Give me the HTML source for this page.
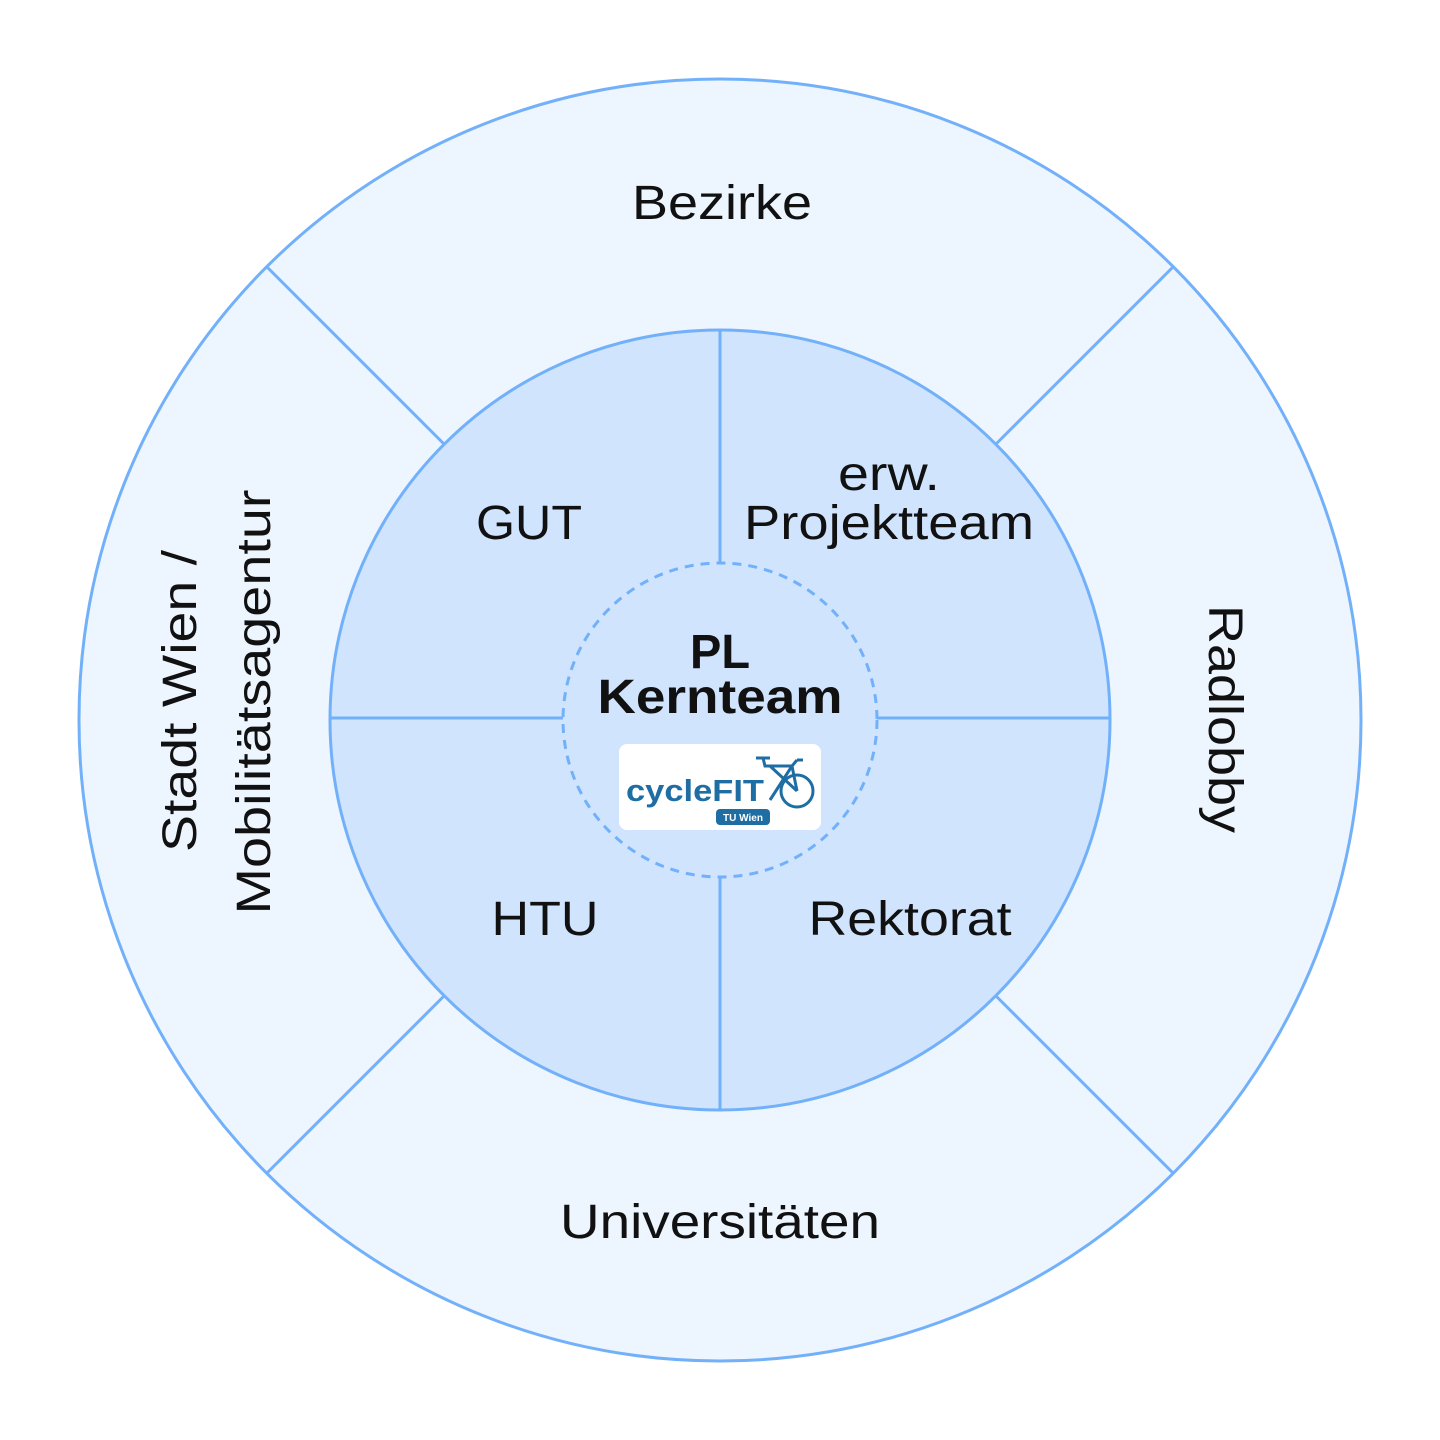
<!DOCTYPE html>
<html><head><meta charset="utf-8"><style>
html,body{margin:0;padding:0;background:#fff;}
svg{display:block;}
text{font-family:"Liberation Sans",sans-serif;fill:#111;}
</style></head><body>
<svg width="1440" height="1440" viewBox="0 0 1440 1440">
<circle cx="720" cy="720" r="641" fill="#edf5ff" stroke="#72b1fa" stroke-width="3"/>
<g stroke="#72b1fa" stroke-width="3">
<line x1="267" y1="267" x2="444" y2="444"/>
<line x1="1173" y1="267" x2="996" y2="444"/>
<line x1="267" y1="1173" x2="444" y2="996"/>
<line x1="1173" y1="1173" x2="996" y2="996"/>
</g>
<circle cx="720" cy="720" r="390" fill="#d0e4fe" stroke="#72b1fa" stroke-width="3"/>
<g stroke="#72b1fa" stroke-width="3">
<line x1="720" y1="330" x2="720" y2="563"/>
<line x1="720" y1="877" x2="720" y2="1110"/>
<line x1="330" y1="718" x2="563" y2="718"/>
<line x1="877" y1="718" x2="1110" y2="718"/>
</g>
<circle cx="720" cy="720" r="157" fill="#d0e4fe" stroke="#72b1fa" stroke-width="3" stroke-dasharray="9 7"/>
<g font-size="48" text-anchor="middle" lengthAdjust="spacingAndGlyphs">
<text x="722" y="219" textLength="180" lengthAdjust="spacingAndGlyphs">Bezirke</text>
<text x="720" y="1238" textLength="320" lengthAdjust="spacingAndGlyphs">Universitäten</text>
<text x="529" y="539" textLength="106" lengthAdjust="spacingAndGlyphs">GUT</text>
<text x="889" y="490" textLength="102" lengthAdjust="spacingAndGlyphs">erw.</text>
<text x="889" y="539" textLength="290" lengthAdjust="spacingAndGlyphs">Projektteam</text>
<text x="545" y="935" textLength="107" lengthAdjust="spacingAndGlyphs">HTU</text>
<text x="910" y="935" textLength="203" lengthAdjust="spacingAndGlyphs">Rektorat</text>
<text transform="translate(1209,719) rotate(90)" textLength="228" lengthAdjust="spacingAndGlyphs">Radlobby</text>
<text transform="translate(196,701) rotate(-90)" textLength="302" lengthAdjust="spacingAndGlyphs">Stadt Wien /</text>
<text transform="translate(270,702) rotate(-90)" textLength="425" lengthAdjust="spacingAndGlyphs">Mobilitätsagentur</text>
<text x="720" y="668" font-weight="bold" textLength="60" lengthAdjust="spacingAndGlyphs">PL</text>
<text x="720" y="713" font-weight="bold" textLength="245" lengthAdjust="spacingAndGlyphs">Kernteam</text>
</g>
<rect x="619" y="744" width="202" height="86" rx="8" fill="#fff"/>
<text x="695" y="801" font-size="31" font-weight="bold" text-anchor="middle" textLength="138" lengthAdjust="spacingAndGlyphs" style="fill:#1f6ea3">cycleFIT</text>
<rect x="716" y="809" width="54" height="16" rx="4" fill="#1f6ea3"/>
<text x="743" y="821" font-size="10" font-weight="bold" text-anchor="middle" style="fill:#fff">TU Wien</text>
<g stroke="#1f6ea3" stroke-width="3" fill="none">
<circle cx="797" cy="791" r="16"/>
<path d="M756 758 H770 M763 758 L765 766 H792 M797 760 L803 760 M797 760 L792 766 L797 791 M770 766 L797 791 M792 766 L770 800"/>
</g>
</svg>
</body></html>
